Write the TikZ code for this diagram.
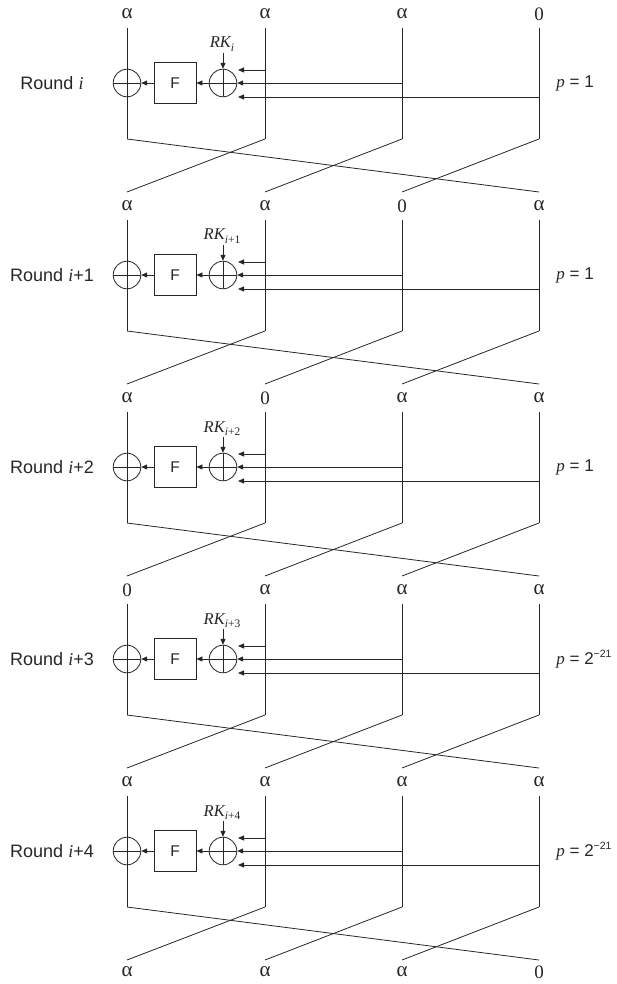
\documentclass[tikz,border=0pt]{standalone}
\usepackage{fontspec}
\setmainfont{Liberation Serif}
\setsansfont{Liberation Sans}
\usetikzlibrary{arrows.meta}
\newcommand{\rklab}[1]{{\fontsize{16.5}{16.5}\selectfont\itshape RK}\raisebox{-3.5pt}{\fontsize{11.5}{11.5}\selectfont\itshape i\upshape#1}}
\newcommand{\roundlab}[1]{\sffamily\fontsize{18}{18}\selectfont Round {\rmfamily\itshape i}#1}
\begin{document}
\begin{tikzpicture}[x=1pt,y=-1pt,line width=0.8pt,draw=black!85,text=black!85,
  xorn/.style={circle,draw,minimum size=27.6pt,inner sep=0pt,
    path picture={\draw (path picture bounding box.north) -- (path picture bounding box.south)
      (path picture bounding box.west) -- (path picture bounding box.east);}},
  fbox/.style={draw,minimum width=42pt,minimum height=41pt,inner sep=0pt,
    font=\sffamily\fontsize{15.5}{15.5}\selectfont},
  alab/.style={inner sep=0pt,font=\rmfamily\fontsize{21}{21}\selectfont},
  zlab/.style={inner sep=0pt,font=\rmfamily\fontsize{19}{19}\selectfont},
  rlab/.style={inner sep=0pt},
  plab/.style={inner sep=0pt,anchor=west,font=\fontsize{17}{17}\selectfont},
  arr/.style={-{Triangle[length=6pt,width=5pt]}},
]
\useasboundingbox (0,0) rectangle (616,984);
% row labels
\foreach \r/\la/\lb/\lc/\ld in {0/a/a/a/z,1/a/a/z/a,2/a/z/a/a,3/z/a/a/a,4/a/a/a/a,5/a/a/a/z}{
  \pgfmathsetmacro{\yy}{83+192*\r-69-(\r==5?2:0)}
  \foreach \i/\x/\t in {1/127/\la,2/265/\lb,3/402/\lc,4/539/\ld}{
    \if a\t
      \node[alab] (L\r\i) at (\x,\yy) {α};
    \else
      \node[zlab] (L\r\i) at (\x,\yy) {0};
    \fi
  }
}
\foreach \k/\sub/\pv in {0//1,1/+1/1,2/+2/1,3/+3/2,4/+4/2}{
  \pgfmathsetmacro{\c}{83+192*\k}
  \foreach \i/\x in {1/127,2/265,3/402,4/539}{
    \coordinate (top\k\i) at (\x,\c-55);
    \coordinate (bot\k\i) at (\x,\c+56);
    \coordinate (end\k\i) at (\x,\c+109);
    \draw (top\k\i) -- (bot\k\i);
  }
  \node[xorn] (xl\k) at (127,\c) {};
  \node[xorn] (xr\k) at (223,\c) {};
  \node[fbox] (f\k) at (175,\c) {F};
  \draw[arr] (f\k.west) -- (xl\k.east);
  \draw[arr] (xr\k.west) -- (f\k.east);
  % inputs
  \coordinate (ia\k) at (265,\c-13);
  \coordinate (ta\k) at (238,\c-13);
  \coordinate (ib\k) at (402,\c);
  \coordinate (ic\k) at (539,\c+14);
  \coordinate (tc\k) at (238,\c+14);
  \draw[arr] (ia\k) -- (ta\k);
  \draw[arr] (ib\k) -- (xr\k.east);
  \draw[arr] (ic\k) -- (tc\k);
  % round key
  \node[rlab,anchor=base] (rk\k) at (222,\c-35) {\rklab{\sub}};
  \coordinate (rks\k) at (223,\c-30);
  \draw[arr] (rks\k) -- (xr\k.north);
  % round label
  \node[rlab] (rn\k) at (52,\c) {\roundlab{\sub}};
  % probability
  \ifnum\pv=1
    \node[plab] (p\k) at (556,\c) {{\rmfamily\itshape p}\sffamily\ = 1};
  \else
    \node[plab] (p\k) at (556,\c) {{\rmfamily\itshape p}\sffamily\ = 2\raisebox{6.5pt}{\fontsize{10.5}{10.5}\selectfont −21}};
  \fi
  % crossing
  \draw (bot\k1) -- (end\k4);
  \draw (bot\k2) -- (end\k1);
  \draw (bot\k3) -- (end\k2);
  \draw (bot\k4) -- (end\k3);
}
\end{tikzpicture}
\end{document}
